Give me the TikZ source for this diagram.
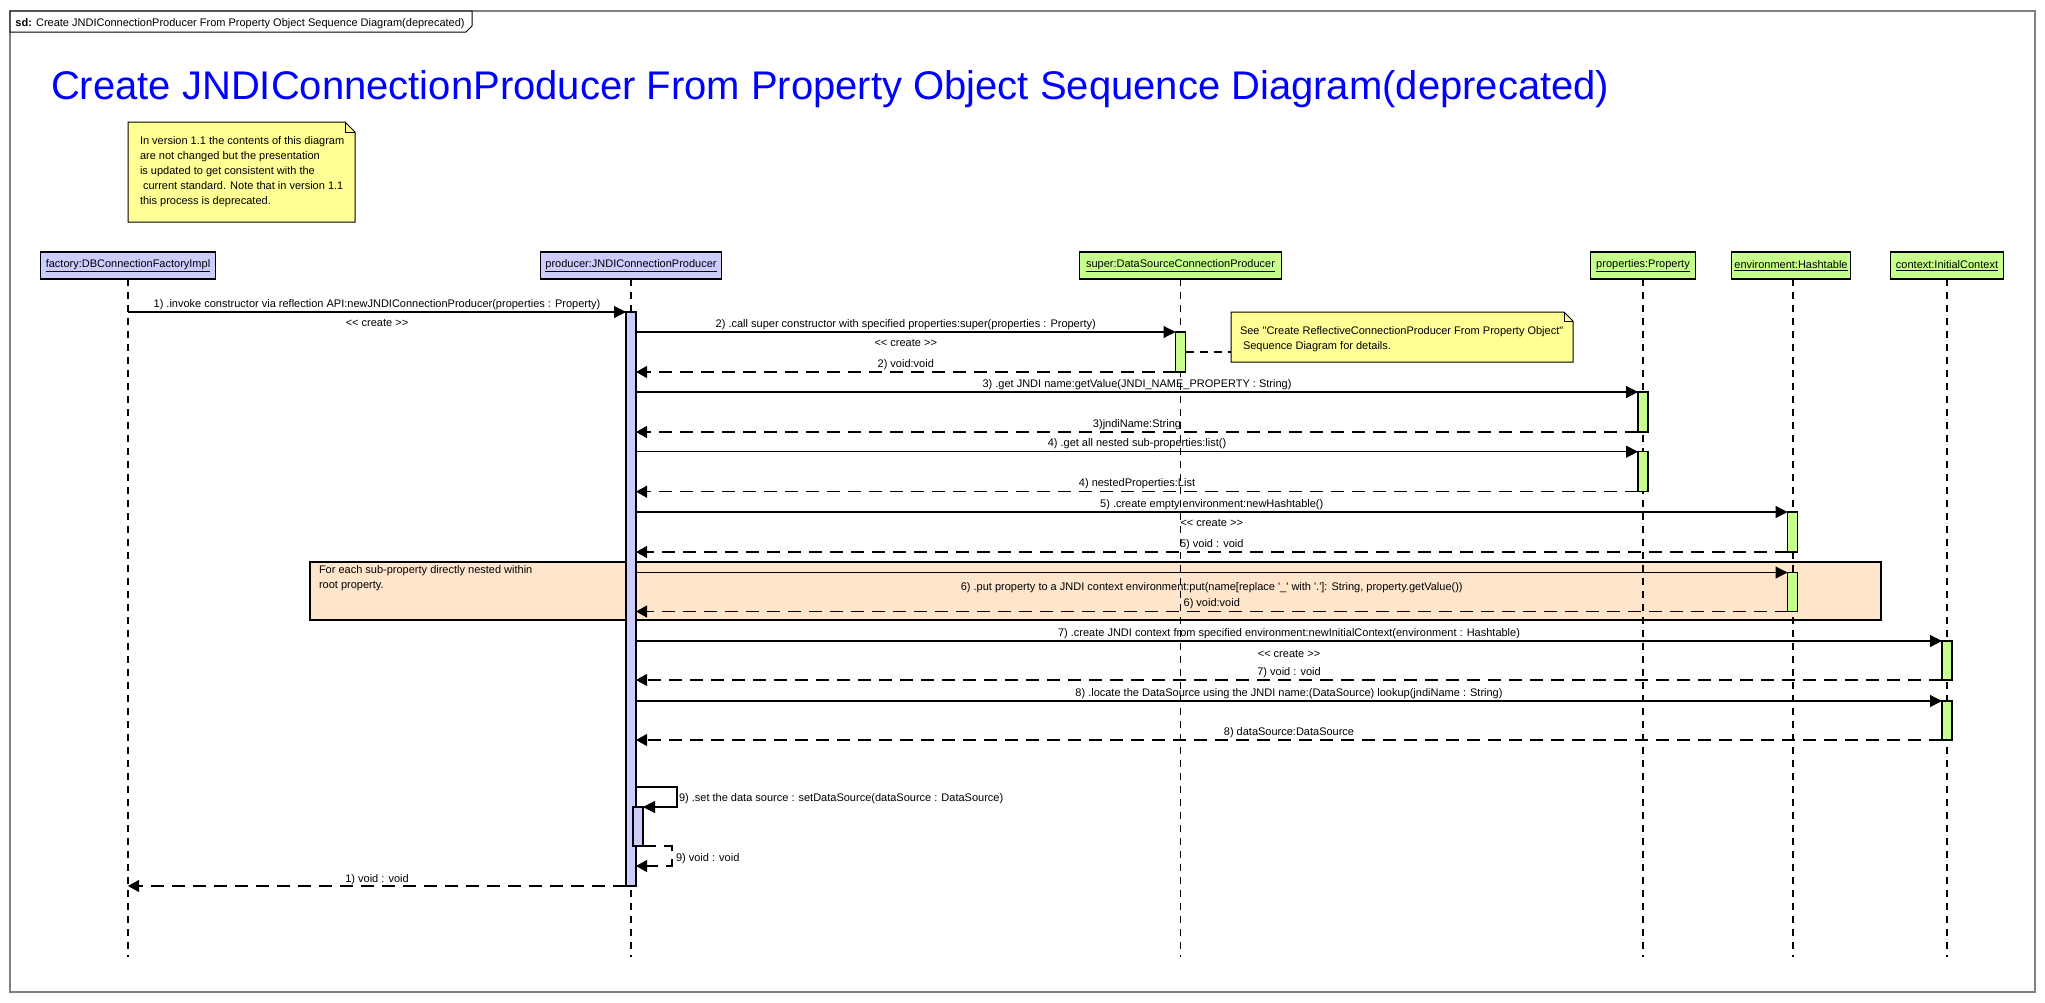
\documentclass[tikz,border=0pt]{standalone}
\usepackage{fontspec}
\setmainfont{Liberation Sans}[Ligatures=TeXOff]
\usetikzlibrary{arrows.meta}
\definecolor{lav}{RGB}{204,204,255}
\definecolor{grn}{RGB}{198,255,140}
\definecolor{noteyel}{RGB}{255,255,150}
\definecolor{loopfill}{RGB}{255,229,204}
\definecolor{framegray}{RGB}{128,128,128}
\definecolor{titleblue}{RGB}{0,0,255}
\begin{document}
\begin{tikzpicture}[x=1pt,y=-1pt,
  every node/.style={font=\fontsize{11}{15}\selectfont, inner sep=0pt, outer sep=0pt},
  head/.style={draw=black, line width=1.3pt, minimum height=27pt},
  lifeln/.style={draw=black, line width=1.1pt, dash pattern=on 7pt off 6pt},
  actbar/.style={draw=black, line width=1.1pt, fill=grn, minimum width=10pt},
  call/.style={draw=black, line width=1.1pt, -{Triangle[length=12pt,width=12pt]}},
  reply/.style={draw=black, line width=1.1pt, dash pattern=on 13pt off 8pt, -{Triangle[length=11pt,width=12pt]}},
  lblup/.style={midway, anchor=base, yshift=5pt},
  lbldn/.style={midway, anchor=base, yshift=-14pt},
  notepoly/.style={fill=noteyel, draw=black, line width=1pt},
]
\useasboundingbox (0,0) rectangle (2045,1002);
\fill[white] (0,0) rectangle (2045,1002);
\draw[framegray, line width=1.5pt] (10,11) rectangle (2035,992);
% tab
\filldraw[fill=white, draw=black, line width=1pt] (10,11) -- (472,11) -- (472,26) -- (466,32) -- (10,32) -- cycle;
\node[anchor=base west] (tabtxt) at (15.5,26) {\textbf{sd:} Create JNDIConnectionProducer From Property Object Sequence Diagram(deprecated)};
% title
\node[anchor=base west, text=titleblue, font=\fontsize{40}{48}\selectfont] (title) at (51,99) {Create JNDIConnectionProducer From Property Object Sequence Diagram(deprecated)};

% note 1
\node[minimum width=227pt, minimum height=100pt] (note1) at (241.5,172) {};
\filldraw[notepoly] (note1.north west) -- ([xshift=-10pt]note1.north east) -- ([yshift=-10pt]note1.north east) -- (note1.south east) -- (note1.south west) -- cycle;
\draw[line width=0.8pt] ([xshift=-10pt]note1.north east) -- ([xshift=-10pt,yshift=-10pt]note1.north east) -- ([yshift=-10pt]note1.north east);
\node[anchor=north west, align=left] (note1txt) at (140,136.5) {In version 1.1 the contents of this diagram\\are not changed but the presentation\\is updated to get consistent with the\\\hspace*{3pt}current standard. Note that in version 1.1\\this process is deprecated.};

% loop fragment
\node[draw=black, line width=1.1pt, fill=loopfill, minimum width=1571pt, minimum height=58pt, anchor=north west] (loopfrag) at (310,562) {};
\node[anchor=north west, align=left] (looptxt) at (319,566) {For each sub-property directly nested within\\root property.};

% heads
\node[head, fill=lav, minimum width=175pt] (fac) at (128,265.5) {\underline{factory:DBConnectionFactoryImpl}};
\node[head, fill=lav, minimum width=181pt] (prod) at (631,265.5) {\underline{producer:JNDIConnectionProducer}};
\node[head, fill=grn, minimum width=202pt] (sup) at (1180.5,265.5) {\underline{super:DataSourceConnectionProducer}};
\node[head, fill=grn, minimum width=105pt] (props) at (1643,265.5) {\underline{properties:Property}};
\node[head, fill=grn, minimum width=119pt] (env) at (1791,265.5) {\underline{environment:Hashtable}};
\node[head, fill=grn, minimum width=113pt] (ctx) at (1947,265.5) {\underline{context:InitialContext}};

% lifelines
\coordinate (facE) at (128,957);
\coordinate (prodE) at (631,957);
\coordinate (supE) at (1180.5,957);
\coordinate (propsE) at (1643,957);
\coordinate (envE) at (1793,957);
\coordinate (ctxE) at (1947,957);
\draw[lifeln] (fac.south) -- (facE);
\draw[lifeln] (prod.south) -- (prodE);
\draw[lifeln] (sup.south) -- (supE);
\draw[lifeln] (props.south) -- (propsE);
\draw[lifeln] (env.south -| envE) -- (envE);
\draw[lifeln] (ctx.south) -- (ctxE);

% activation bars
\node[actbar, fill=lav, minimum height=574pt] (pbar) at (631,599) {};
\node[actbar, minimum height=40pt] (sbar) at (1180.5,352) {};
\node[actbar, minimum height=40pt] (prop1) at (1643,412) {};
\node[actbar, minimum height=40pt] (prop2) at (1643,471.7) {};
\node[actbar, minimum height=40pt] (env1) at (1792.5,532) {};
\node[actbar, minimum height=39pt] (env2) at (1792.5,592) {};
\node[actbar, minimum height=39pt] (ctx1) at (1947,660.5) {};
\node[actbar, minimum height=39pt] (ctx2) at (1947,720.5) {};
\node[actbar, fill=lav, minimum height=39pt] (nbar) at (638,826.5) {};

% note 2
\node[minimum width=342pt, minimum height=50pt] (note2) at (1402,337) {};
\filldraw[notepoly] (note2.north west) -- ([xshift=-9pt]note2.north east) -- ([yshift=-9pt]note2.north east) -- (note2.south east) -- (note2.south west) -- cycle;
\draw[line width=0.8pt] ([xshift=-9pt]note2.north east) -- ([xshift=-9pt,yshift=-9pt]note2.north east) -- ([yshift=-9pt]note2.north east);
\node[anchor=north west, align=left] (note2txt) at (1240,326.5) {See "Create ReflectiveConnectionProducer From Property Object"\\\hspace*{3pt}Sequence Diagram for details.};
\draw[line width=1.1pt, dash pattern=on 8pt off 6pt] (sbar.east) -- (note2.west |- sbar.east);

% messages
\coordinate (f1) at (128,312);
\draw[call] (f1) -- (pbar.north west)
  node[lblup] (m1) {1) .invoke constructor via reflection API:newJNDIConnectionProducer(properties : Property)}
  node[lbldn] (m1c) {<< create >>};

\draw[call] (pbar.east |- sbar.north) -- (sbar.north west)
  node[lblup] (m2) {2) .call super constructor with specified properties:super(properties : Property)}
  node[lbldn] (m2c) {<< create >>};
\draw[reply] (sbar.south west) -- (pbar.east |- sbar.south)
  node[lblup] (r2) {2) void:void};

\draw[call] (pbar.east |- prop1.north) -- (prop1.north west)
  node[lblup] (m3) {3) .get JNDI name:getValue(JNDI\_NAME\_PROPERTY : String)};
\draw[reply] (prop1.south west) -- (pbar.east |- prop1.south)
  node[lblup] (r3) {3)jndiName:String};

\draw[call] (pbar.east |- prop2.north) -- (prop2.north west)
  node[lblup] (m4) {4) .get all nested sub-properties:list()};
\draw[reply] (prop2.south west) -- (pbar.east |- prop2.south)
  node[lblup] (r4) {4) nestedProperties:List};

\draw[call] (pbar.east |- env1.north) -- (env1.north west)
  node[lblup] (m5) {5) .create empty environment:newHashtable()}
  node[lbldn] (m5c) {<< create >>};
\draw[reply] (env1.south west) -- (pbar.east |- env1.south)
  node[lblup] (r5) {5) void : void};

\draw[call] (pbar.east |- env2.north) -- (env2.north west)
  node[midway, anchor=base, yshift=-18pt] (m6) {6) .put property to a JNDI context environment:put(name[replace '\_' with '.']: String, property.getValue())};
\draw[reply] (env2.south west) -- (pbar.east |- env2.south)
  node[lblup] (r6) {6) void:void};

\draw[call] (pbar.east |- ctx1.north) -- (ctx1.north west)
  node[lblup] (m7) {7) .create JNDI context from specified environment:newInitialContext(environment : Hashtable)}
  node[midway, anchor=base, yshift=-16pt] (m7c) {<< create >>};
\draw[reply] (ctx1.south west) -- (pbar.east |- ctx1.south)
  node[lblup] (r7) {7) void : void};

\draw[call] (pbar.east |- ctx2.north) -- (ctx2.north west)
  node[lblup] (m8) {8) .locate the DataSource using the JNDI name:(DataSource) lookup(jndiName : String)};
\draw[reply] (ctx2.south west) -- (pbar.east |- ctx2.south)
  node[lblup] (r8) {8) dataSource:DataSource};

% self call 9
\coordinate (s9) at (636,787);
\draw[call] (s9) -- ++(41,0) |- (nbar.north east);
\node[anchor=base west] (m9) at (679,801) {9) .set the data source : setDataSource(dataSource : DataSource)};
\coordinate (r9e) at (636,866);
\draw[reply] (nbar.south east) -- ++(29,0) |- (r9e);
\node[anchor=base west] (r9) at (676,861) {9) void : void};

% final return 1
\coordinate (f2) at (128,886);
\draw[reply] (pbar.south west) -- (f2)
  node[midway, anchor=base, yshift=4pt] (r1) {1) void : void};
\end{tikzpicture}
\end{document}
